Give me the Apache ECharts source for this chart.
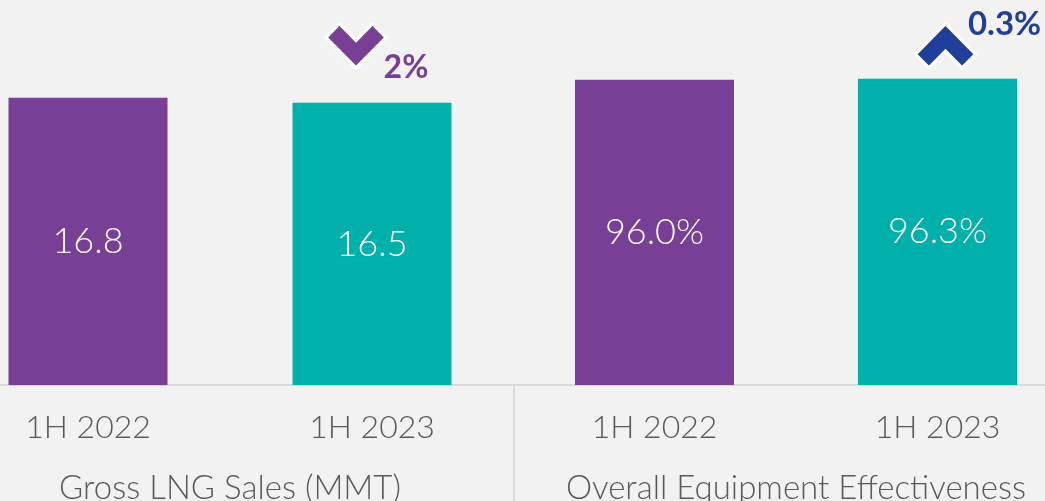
<!DOCTYPE html>
<html>
<head>
<meta charset="utf-8">
<script src="https://cdn.jsdelivr.net/npm/echarts@6/dist/echarts.min.js"></script>
<style>
  html, body { margin: 0; padding: 0; background: #f2f2f2; }
  #chart { width: 1045px; height: 501px; }
</style>
</head>
<body>
<div id="chart"></div>
<script>
// chart data
const periods = ['1H 2022', '1H 2023'];
const salesValues = [16.8, 16.5];
const oeeValues = [96.0, 96.3];
const panelTitles = ['Gross LNG Sales (MMT)', 'Overall Equipment Effectiveness'];
const changeLabels = ['2%', '0.3%'];

const PURPLE = '#773f96';
const TEAL = '#00b0aa';
const GREY = '#595959';
const FONT = 'Lato';

const chevronDown = 'path://M0,13 L13,0 L29,16 L45,0 L58,13 L29,42 Z';
const chevronUp = 'path://M0,29 L29,0 L58,29 L45,42 L29,26 L13,42 Z';

const barColors = [PURPLE, TEAL];

const chart = echarts.init(document.getElementById('chart'));

function xAxisFor(idx) {
  return {
    type: 'category',
    gridIndex: idx,
    data: periods,
    axisTick: { show: false },
    axisLine: { lineStyle: { color: '#d9d9d9', width: 2 } },
    axisLabel: {
      color: GREY,
      fontFamily: FONT,
      fontWeight: 300,
      fontSize: 32,
      margin: 27,
    },
    name: panelTitles[idx],
    nameLocation: 'middle',
    nameGap: 87,
    nameTextStyle: { color: GREY, fontFamily: FONT, fontWeight: 300, fontSize: 33 },
  };
}

function yAxisFor(idx, max) {
  return {
    type: 'value',
    gridIndex: idx,
    min: 0,
    max: max,
    show: false,
    splitLine: { show: false },
  };
}

const option = {
  backgroundColor: '#f2f2f2',
  animation: false,
  grid: [
    { left: -54, width: 568, top: 43, bottom: 116, outerBoundsMode: 'none' },
    { left: 513, width: 566, top: 67, bottom: 116, outerBoundsMode: 'none' },
  ],
  xAxis: [xAxisFor(0), xAxisFor(1)],
  yAxis: [yAxisFor(0, 20), yAxisFor(1, 100)],
  series: [
    {
      type: 'bar',
      xAxisIndex: 0,
      yAxisIndex: 0,
      barWidth: 159,
      data: salesValues.map((v, i) => ({ value: v, itemStyle: { color: barColors[i] } })),
      label: {
        show: true,
        position: 'inside',
        color: '#fff',
        fontFamily: FONT,
        fontWeight: 300,
        fontSize: 36,
        formatter: p => p.value.toFixed(1),
      },
      markPoint: {
        data: [{
          coord: [1, salesValues[1]],
          symbol: chevronDown,
          symbolSize: [60, 44],
          symbolOffset: [-16, -57],
          itemStyle: { color: PURPLE, borderColor: '#fff', borderWidth: 3 },
          label: {
            show: true,
            formatter: changeLabels[0],
            position: 'inside',
            offset: [50, 22],
            color: PURPLE,
            fontFamily: FONT,
            fontWeight: 'bold',
            fontSize: 32,
          },
        }],
      },
    },
    {
      type: 'bar',
      xAxisIndex: 1,
      yAxisIndex: 1,
      barWidth: 159,
      data: oeeValues.map((v, i) => ({ value: v, itemStyle: { color: barColors[i] } })),
      label: {
        show: true,
        position: 'inside',
        color: '#fff',
        fontFamily: FONT,
        fontWeight: 300,
        fontSize: 36,
        formatter: p => p.value.toFixed(1) + '%',
      },
      markPoint: {
        data: [{
          coord: [1, oeeValues[1]],
          symbol: chevronUp,
          symbolSize: [60, 44],
          symbolOffset: [8, -33],
          itemStyle: { color: '#1f3f99', borderColor: '#fff', borderWidth: 3 },
          label: {
            show: true,
            formatter: changeLabels[1],
            position: 'inside',
            offset: [59, -21],
            color: '#1f3f99',
            fontFamily: FONT,
            fontWeight: 'bold',
            fontSize: 33,
          },
        }],
      },
    },
  ],
  graphic: [
    {
      type: 'line',
      shape: { x1: 514, y1: 386, x2: 514, y2: 501 },
      style: { stroke: '#d9d9d9', lineWidth: 2 },
      silent: true,
    },
  ],
};

chart.setOption(option);
</script>
</body>
</html>
